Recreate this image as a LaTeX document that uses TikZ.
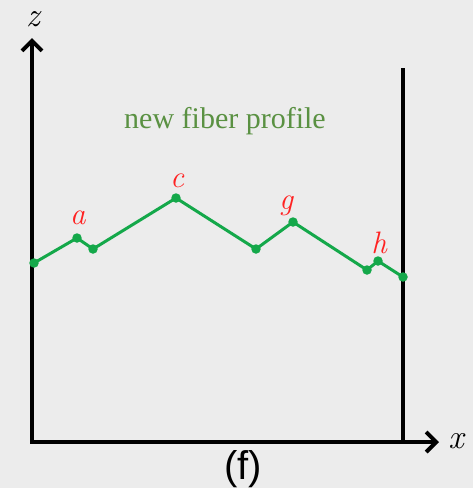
\documentclass[tikz,border=0pt]{standalone}
\usepackage{fontspec}
\newfontfamily\capfont{Liberation Sans}
\newfontfamily\serifx{Liberation Serif}
\usetikzlibrary{arrows.meta}
\definecolor{bg}{HTML}{ECECEC}
\definecolor{fibergreen}{HTML}{14A84A}
\definecolor{textgreen}{HTML}{5A9142}
\definecolor{lblred}{HTML}{FF2222}
\begin{document}
\begin{tikzpicture}[x=1pt,y=-1pt,
  axis/.style={line width=4pt,-{Straight Barb[length=10pt,width=20pt,line width=4pt]}},
  wall/.style={line width=4pt},
  fiber/.style={fibergreen,line width=3pt,line join=round},
  dot/.style={circle,fill=fibergreen,inner sep=0pt,minimum size=9.5pt},
  lbl/.style={lblred,font=\fontsize{31}{31}\selectfont\itshape,inner sep=0pt},
  axlbl/.style={font=\fontsize{34}{34}\selectfont\itshape,inner sep=0pt}]
\fill[bg] (0,0) rectangle (473,488);
\useasboundingbox (0,0) rectangle (473,488);
\coordinate (O) at (32,442);
\coordinate (Z) at (32,38);
\coordinate (X) at (439,442);
\coordinate (Wt) at (403,68);
\coordinate (Wb) at (403,442);
\draw[wall] (Wt) -- (Wb);
\draw[axis] ([xshift=-2pt]O) -- (X);
\draw[axis] ([yshift=2pt]O) -- (Z);
\node[axlbl] (zl) at (33,19) {z};
\node[axlbl] (xl) at (456,441) {x};
\node[textgreen,inner sep=0pt,font=\serifx\fontsize{30}{30}\selectfont] (title) at (225,121) {new fiber profile};
\node[inner sep=0pt,anchor=base,font=\capfont\fontsize{40}{40}\selectfont] (cap) at (243,479) {(f)};
\node[dot] (p1) at (34,263) {};
\node[dot] (p2) at (77,238) {};
\node[dot] (p3) at (93,249) {};
\node[dot] (p4) at (176,198) {};
\node[dot] (p5) at (256,249) {};
\node[dot] (p6) at (293,222) {};
\node[dot] (p7) at (367,270) {};
\node[dot] (p8) at (378,261) {};
\node[dot] (p9) at (403,277) {};
\draw[fiber] (p1.center) -- (p2.center) -- (p3.center) -- (p4.center) -- (p5.center) -- (p6.center) -- (p7.center) -- (p8.center) -- (p9.center);
\node[lbl] (la) at (78,218) {a};
\node[lbl] (lc) at (177,181) {c};
\node[lbl] (lg) at (286,206) {g};
\node[lbl] (lh) at (379,243) {h};
\end{tikzpicture}
\end{document}
